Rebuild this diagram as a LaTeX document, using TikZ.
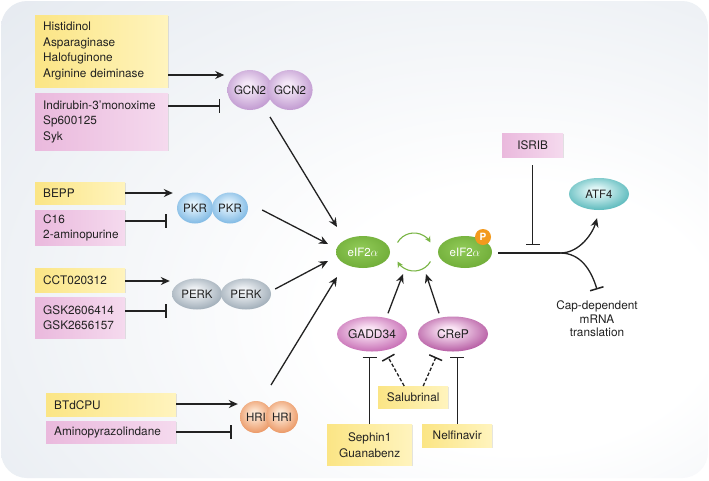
\documentclass[tikz,border=0pt]{standalone}
\usepackage{fontspec}
\setmainfont{TeX Gyre Heros}
\usetikzlibrary{arrows.meta,shapes.geometric,shadows,calc}
\definecolor{bgc}{HTML}{D9E0E9}
\definecolor{txtc}{HTML}{222222}
\definecolor{ylL}{HTML}{FBE585}
\definecolor{ylR}{HTML}{FFF4BE}
\definecolor{pkL}{HTML}{EAB9DD}
\definecolor{pkR}{HTML}{F5DAEE}
\definecolor{grn}{HTML}{79B544}
\definecolor{porange}{HTML}{F39A1E}
\colorlet{orbin}{white}
\colorlet{orbout}{gray}
\pgfdeclareradialshading[orbin,orbout]{orb}{\pgfpoint{-3bp}{6bp}}{color(0bp)=(orbin); color(5bp)=(orbin); color(40bp)=(orbout); color(60bp)=(orbout)}
\pgfdeclareradialshading{bgshade}{\pgfpoint{14bp}{-10bp}}{color(0bp)=(white); color(14bp)=(white); color(58bp)=(bgc); color(80bp)=(bgc)}
\tikzset{
  txt/.style={font=\fontsize{11.8}{15.5}\selectfont, text=txtc},
  boxbase/.style={txt, draw=none, inner xsep=8pt, inner ysep=0pt, anchor=north west, align=left,
    drop shadow={shadow xshift=1.2pt, shadow yshift=-1.2pt, opacity=0.22}},
  ybox/.style={boxbase, left color=ylL, right color=ylR},
  pbox/.style={boxbase, left color=pkL, right color=pkR},
  orbc/.style 2 args={shading=orb, /utils/exec={\definecolor{orbin}{HTML}{#1}\definecolor{orbout}{HTML}{#2}}},
  kin/.style={ellipse, inner sep=0pt, font=\fontsize{11.5}{13}\selectfont, text=txtc},
  act/.style={line width=1.3pt, draw=txtc, -{Stealth[length=9pt,width=8pt]}},
  inh/.style={line width=1.3pt, draw=txtc, -{Bar[width=14pt,line width=1.5pt]}},
  dinh/.style={inh, dash pattern=on 3.5pt off 2pt},
  cycarr/.style={line width=1.1pt, draw=grn, -{Stealth[length=6pt,width=6pt]}},
}
\begin{document}
\begin{tikzpicture}[x=1pt,y=-1pt]
\useasboundingbox (0,0) rectangle (709,480);
\fill[white] (0,0) rectangle (709,480);
\shade[shading=bgshade, rounded corners=26pt] (1,1) rectangle (708,478);

% ---------- drug boxes ----------
\node[ybox, text width=117pt, minimum height=72pt] (y1) at (35,15)
  {Histidinol\\Asparaginase\\Halofuginone\\Arginine deiminase};
\node[pbox, text width=117pt, minimum height=57pt] (p1) at (35,93)
  {Indirubin-3'monoxime\\Sp600125\\Syk};
\node[ybox, text width=74pt, minimum height=22pt] (bepp) at (35,182) {BEPP};
\node[pbox, text width=74pt, minimum height=35pt] (c16) at (35,210) {C16\\\mbox{2-aminopurine}};
\node[ybox, text width=74pt, minimum height=24pt] (cct) at (35,268) {CCT020312};
\node[pbox, text width=74pt, minimum height=41pt] (gsk) at (35,297) {GSK2606414\\GSK2656157};
\node[ybox, text width=114pt, minimum height=23pt] (btd) at (46,393) {BTdCPU};
\node[pbox, text width=114pt, minimum height=22pt] (amp) at (46,421) {Aminopyrazolindane};
\node[pbox, text width=45pt, minimum height=24pt, align=center] (isrib) at (502,133) {ISRIB};
\node[ybox, text width=54pt, minimum height=22pt, align=center] (sal) at (378,386) {Salubrinal};
\node[ybox, text width=69pt, minimum height=41pt, align=center, font=\fontsize{11.8}{16}\selectfont] (seph) at (327,424) {Sephin1\\Guanabenz};
\node[ybox, text width=54pt, minimum height=23pt, align=center] (nelf) at (422,424) {Nelfinavir};

% ---------- kinases ----------
\node[kin, orbc={F3E6F6}{A874BE}, minimum width=40pt, minimum height=40pt] (gcna) at (250,90) {GCN2};
\node[kin, orbc={F3E6F6}{A874BE}, minimum width=40pt, minimum height=40pt] (gcnb) at (290,90) {GCN2};
\node[kin, orbc={E0F1FC}{4F9DD8}, minimum width=36pt, minimum height=31pt] (pkra) at (195,208) {PKR};
\node[kin, orbc={E0F1FC}{4F9DD8}, minimum width=36pt, minimum height=31pt] (pkrb) at (230,208) {PKR};
\node[kin, orbc={EEF1F4}{7A8C9B}, minimum width=50pt, minimum height=31pt] (perka) at (197,294) {PERK};
\node[kin, orbc={EEF1F4}{7A8C9B}, minimum width=50pt, minimum height=31pt] (perkb) at (246,294) {PERK};
\node[kin, orbc={FDE6D2}{E2712F}, minimum width=32pt, minimum height=32pt] (hria) at (256,417) {HRI};
\node[kin, orbc={FDE6D2}{E2712F}, minimum width=32pt, minimum height=32pt] (hrib) at (282,417) {HRI};

% ---------- eIF2alpha ----------
\node[kin, orbc={8CC653}{64A22D}, minimum width=54pt, minimum height=32pt, text=white] (eif) at (363,252) {eIF2$\alpha$};
\node[kin, orbc={8CC653}{64A22D}, minimum width=54pt, minimum height=32pt, text=white] (eifp) at (465,252) {eIF2$\alpha$};
\node[circle, fill=porange, inner sep=0pt, minimum size=16pt, text=white,
  font=\fontsize{10}{10}\selectfont\bfseries] (phos) at (483,237) {P};
\coordinate (cyc) at (414,252);
\draw[cycarr] ($(cyc)+(210:19)$) arc[start angle=210, end angle=330, radius=19];
\draw[cycarr] ($(cyc)+(30:19)$) arc[start angle=30, end angle=150, radius=19];

% ---------- phosphatases ----------
\node[kin, orbc={FAE3F4}{AE3596}, minimum width=70pt, minimum height=35pt, font=\fontsize{12}{14}\selectfont] (gadd) at (372,334) {GADD34};
\node[kin, orbc={FAE3F4}{951A7C}, minimum width=70pt, minimum height=35pt, font=\fontsize{12}{14}\selectfont] (crep) at (453,334) {CReP};

% ---------- outputs ----------
\node[kin, orbc={E0F6F6}{1A9CA0}, minimum width=60pt, minimum height=32pt] (atf4) at (599,194) {ATF4};
\node[txt, align=center, font=\fontsize{11.8}{13.5}\selectfont] (cap) at (597,319) {Cap-dependent\\mRNA\\translation};

% ---------- connectors: drugs to kinases ----------
\coordinate (g1) at ($(gcna.west)+(-3,-15)$);
\coordinate (g2) at ($(gcna.west)+(-7,16)$);
\draw[act] (y1.east |- g1) -- (g1);
\draw[inh] (p1.east |- g2) -- (g2);
\coordinate (k1) at ($(pkra.west)+(-4,-15)$);
\coordinate (k2) at ($(pkra.west)+(-10,13)$);
\draw[act] (bepp.east |- k1) -- (k1);
\draw[inh] (c16.east |- k2) -- (k2);
\coordinate (e1) at ($(perka.west)+(-2,-13)$);
\coordinate (e2) at ($(perka.west)+(-5,17)$);
\draw[act] (cct.east |- e1) -- (e1);
\draw[inh] (gsk.east |- e2) -- (e2);
\coordinate (h1) at ($(hria.west)+(-2,-13)$);
\coordinate (h2) at ($(hria.west)+(-8,15)$);
\draw[act] (btd.east |- h1) -- (h1);
\draw[inh] (amp.east |- h2) -- (h2);

% ---------- kinases to eIF2alpha ----------
\coordinate (s1) at ($(gcnb)+(-20,27)$);
\coordinate (s2) at ($(pkrb.east)+(14,2)$);
\coordinate (s3) at ($(perkb.east)+(4,-5)$);
\coordinate (s4) at ($(hrib)+(-11,-32)$);
\coordinate (t1) at ($(eif)+(-26,-25)$);
\coordinate (t2) at ($(eif)+(-35,-8)$);
\coordinate (t3) at ($(eif)+(-35,9)$);
\coordinate (t4) at ($(eif)+(-26,25)$);
\draw[act] (s1) -- (t1);
\draw[act] (s2) -- (t2);
\draw[act] (s3) -- (t3);
\draw[act] (s4) -- (t4);

% ---------- phosphatases ----------
\draw[act] ($(gadd.north)+(16,-3)$) -- ($(cyc)+(-11,22)$);
\draw[act] ($(crep.north)+(-14,-3)$) -- ($(cyc)+(12,22)$);
\coordinate (gb) at ($(gadd.south)+(0,5)$);
\coordinate (cb) at ($(crep.south)+(0,5)$);
\draw[inh] (seph.north) -- (seph.north |- gb);
\draw[inh] (nelf.north) -- (nelf.north |- cb);
\draw[dinh] ($(sal.north)+(-9,0)$) -- ($(gadd)+(16,23)$);
\draw[dinh] ($(sal.north)+(10,0)$) -- ($(crep)+(-17,23)$);

% ---------- downstream ----------
\coordinate (br) at ($(eifp.east)+(68,1)$);
\draw[line width=1.3pt, draw=txtc] ($(eifp.east)+(6,1)$) -- (br);
\draw[act] (br) .. controls ($(br)+(20,0)$) and ($(atf4.south)+(-6,22)$) .. ($(atf4.south)+(-2,8)$);
\draw[inh] (br) .. controls ($(br)+(20,0)$) and ($(cap.north)+(-6,-28)$) .. ($(cap.north)+(0,-8)$);
\coordinate (ib) at ($(br)+(-28,-8)$);
\draw[inh] ($(isrib.south)+(0,8)$) -- (isrib.south |- ib);
\end{tikzpicture}
\end{document}
